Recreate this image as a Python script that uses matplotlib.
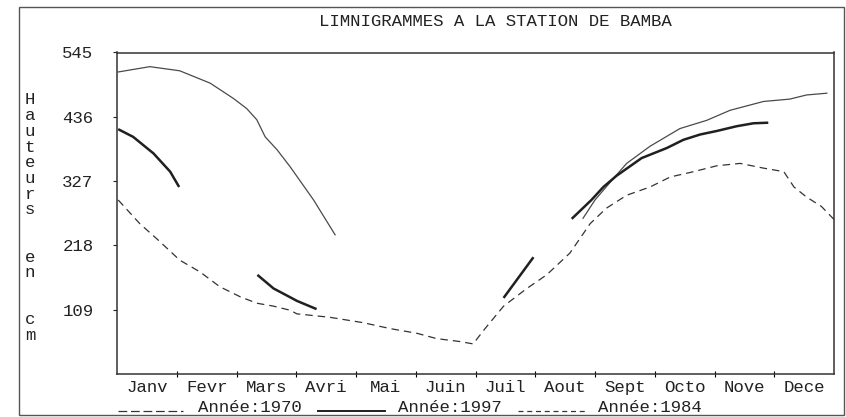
import matplotlib
matplotlib.use("Agg")
import matplotlib.pyplot as plt
from matplotlib.lines import Line2D
from matplotlib.patches import Rectangle

# Données (x en mois depuis le 1er janvier, y en cm)
mois = ["Janv", "Fevr", "Mars", "Avri", "Mai", "Juin", "Juil", "Aout",
        "Sept", "Octo", "Nove", "Dece"]
graduations_y = [109, 218, 327, 436, 545]

# courbe fine
fine_1_x = [0.02, 0.55, 1.05, 1.56, 1.95, 2.17, 2.34, 2.48, 2.68, 2.90, 3.29, 3.65]
fine_1_y = [512, 521, 514, 493, 467, 450, 431, 402, 380, 351, 295, 236]
fine_2_x = [7.80, 8.00, 8.33, 8.53, 8.92, 9.42, 9.87, 10.26, 10.82, 11.26, 11.54, 11.88]
fine_2_y = [264, 295, 334, 357, 386, 416, 430, 447, 462, 466, 473, 476]

# courbe épaisse (morceaux)
epais_1_x = [0.02, 0.27, 0.61, 0.89, 1.04]
epais_1_y = [415, 402, 374, 343, 317]
epais_2_x = [2.35, 2.62, 2.90, 3.01, 3.34]
epais_2_y = [168, 145, 130, 124, 110]
epais_3_x = [6.47, 6.97]
epais_3_y = [129, 198]
epais_4_x = [7.61, 7.94, 8.14, 8.36, 8.78, 9.20, 9.48, 9.76, 10.04, 10.37, 10.65, 10.90]
epais_4_y = [263, 295, 317, 336, 366, 383, 397, 406, 412, 420, 425, 426]

# courbe en tirets
tirets_x = [0.02, 0.38, 0.69, 1.05, 1.39, 1.72, 2.06, 2.34, 2.62, 2.90, 3.01, 3.57,
            4.12, 4.57, 5.02, 5.35, 5.74, 5.96, 6.16, 6.47, 6.86, 7.19, 7.58, 7.92,
            8.19, 8.53, 8.92, 9.26, 9.65, 10.04, 10.43, 10.82, 11.16, 11.33, 11.54,
            11.79, 12.0]
tirets_y = [295, 255, 227, 193, 173, 148, 131, 120, 115, 108, 102, 96,
            87, 77, 69, 60, 55, 51, 77, 115, 145, 168, 205, 255,
            281, 303, 317, 334, 343, 353, 357, 349, 343, 317, 300,
            284, 262]

police = "Liberation Mono"
taille = 12.5
encre = "#222222"

fig = plt.figure(figsize=(8.46, 4.17), dpi=100)
ax = fig.add_axes([117 / 846, 1 - 374 / 417, (834 - 117) / 846, (374 - 52.5) / 417])

ax.plot(fine_1_x, fine_1_y, color="#4a4a4a", lw=0.9)
ax.plot(fine_2_x, fine_2_y, color="#4a4a4a", lw=0.9)
for xs, ys in [(epais_1_x, epais_1_y), (epais_2_x, epais_2_y),
               (epais_3_x, epais_3_y), (epais_4_x, epais_4_y)]:
    ax.plot(xs, ys, color="#202020", lw=1.8, solid_capstyle="butt")
ax.plot(tirets_x, tirets_y, color="#333333", lw=0.9, dashes=(6, 4))

ax.set_xlim(0, 12)
ax.set_ylim(0, 545)
ax.set_yticks(graduations_y)
ax.set_yticklabels([str(v) for v in graduations_y], fontfamily=police,
                   fontsize=taille, color=encre)
ax.set_xticks(range(1, 12))
ax.set_xticklabels([])
ax.set_xticks([i + 0.5 for i in range(12)], minor=True)
ax.set_xticklabels(mois, minor=True, fontfamily=police, fontsize=taille, color=encre)
ax.tick_params(axis="y", direction="out", length=3, width=0.8, pad=14, colors=encre)
ax.tick_params(axis="x", which="major", direction="inout", length=5, width=0.8)
ax.tick_params(axis="x", which="minor", length=0, pad=4, colors=encre)
for s in ax.spines.values():
    s.set_color("#333333")
    s.set_linewidth(1.1)

# titre
fig.text(495 / 846, 1 - 22 / 417, "LIMNIGRAMMES A LA STATION DE BAMBA",
         ha="center", va="center", fontfamily=police, fontsize=taille, color=encre)

# légende verticale
etiquette = "Hauteurs  en  cm"
for i, c in enumerate(etiquette):
    if c != " ":
        fig.text(30 / 846, 1 - (100 + i * 15.7) / 417, c, ha="center", va="center",
                 fontfamily=police, fontsize=taille, color=encre)

# légende du bas
y_ligne = 1 - 411 / 417
fig.add_artist(Line2D([118 / 846, 183 / 846], [y_ligne, y_ligne], color="#333333",
                      lw=0.9, dashes=(7, 3), transform=fig.transFigure))
fig.text(198 / 846, 1 - 412 / 417, "Année:1970", ha="left", va="baseline",
         fontfamily=police, fontsize=taille, color=encre)
fig.add_artist(Line2D([318 / 846, 385 / 846], [y_ligne, y_ligne], color="#202020",
                      lw=1.4, transform=fig.transFigure))
fig.text(398 / 846, 1 - 412 / 417, "Année:1997", ha="left", va="baseline",
         fontfamily=police, fontsize=taille, color=encre)
fig.add_artist(Line2D([518 / 846, 587 / 846], [y_ligne, y_ligne], color="#333333",
                      lw=0.9, dashes=(4, 3), transform=fig.transFigure))
fig.text(598 / 846, 1 - 412 / 417, "Année:1984", ha="left", va="baseline",
         fontfamily=police, fontsize=taille, color=encre)

# cadre extérieur
fig.add_artist(Rectangle((0.023, 0.005), 0.975, 0.978, fill=False,
                         edgecolor="#555555", lw=1.0, transform=fig.transFigure))

fig.savefig("out.png", dpi=100)
